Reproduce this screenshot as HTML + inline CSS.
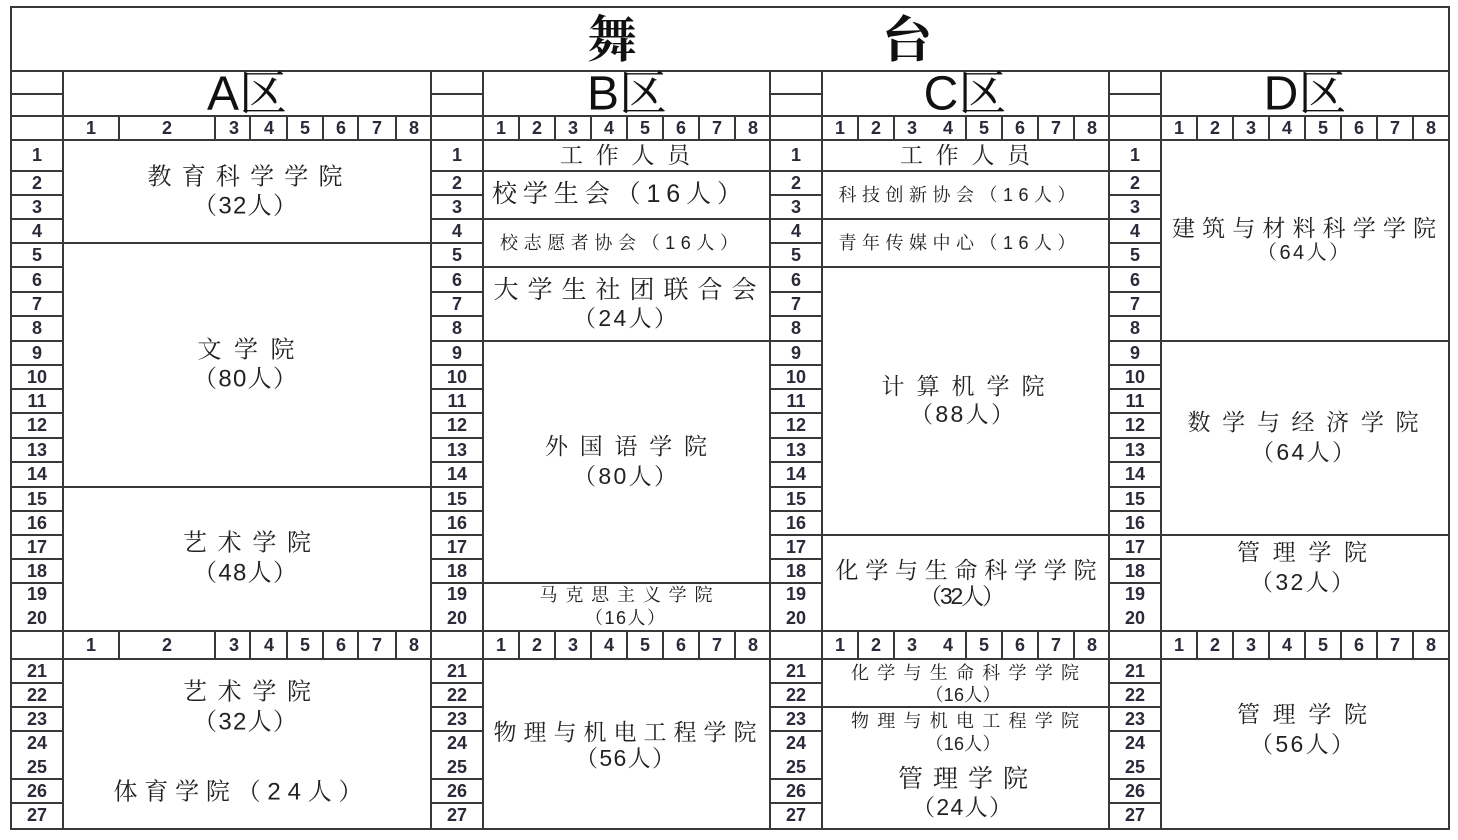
<!DOCTYPE html>
<html><head><meta charset="utf-8"><style>
html,body{margin:0;padding:0;background:#fff;}
svg{display:block;}
.n{font-family:"Liberation Sans",sans-serif;font-weight:bold;font-size:18px;fill:#2a2a3a;text-anchor:middle;dominant-baseline:central;}
.t{font-family:"Liberation Sans","Noto Serif CJK SC","Noto Sans CJK SC",sans-serif;fill:#222;text-anchor:middle;dominant-baseline:central;}
</style></head><body>
<svg width="1458" height="840" viewBox="0 0 1458 840" xmlns="http://www.w3.org/2000/svg">
<g stroke="#383838" stroke-width="2" fill="none">
<path d="M11 7H1449V829H11Z"/>
<path d="M11 71H1449M11 116H1449M11 140H1449M11 631H1449M11 659H1449"/>
<path d="M63 71V829M431 71V829M483 71V829M770 71V829M822 71V829M1109 71V829M1161 71V829"/>
<path d="M11 94H63M431 94H483M770 94H822M1109 94H1161"/>
<path d="M119 116V140M215 116V140M250 116V140M287 116V140M323 116V140M358 116V140M396 116V140"/>
<path d="M119 631V659M215 631V659M250 631V659M287 631V659M323 631V659M358 631V659M396 631V659"/>
<path d="M519 116V140M555 116V140M591 116V140M627 116V140M663 116V140M699 116V140M735 116V140"/>
<path d="M519 631V659M555 631V659M591 631V659M627 631V659M663 631V659M699 631V659M735 631V659"/>
<path d="M858 116V140M894 116V140M966 116V140M1002 116V140M1038 116V140M1074 116V140"/>
<path d="M858 631V659M894 631V659M966 631V659M1002 631V659M1038 631V659M1074 631V659"/>
<path d="M1197 116V140M1233 116V140M1269 116V140M1305 116V140M1341 116V140M1377 116V140M1413 116V140"/>
<path d="M1197 631V659M1233 631V659M1269 631V659M1305 631V659M1341 631V659M1377 631V659M1413 631V659"/>
<path d="M11 171H63M11 195H63M11 219H63M11 243H63M11 267H63M11 292H63M11 316H63M11 341H63M11 365H63M11 389H63M11 413H63M11 438H63M11 462H63M11 487H63M11 511H63M11 535H63M11 559H63M11 583H63M11 683H63M11 707H63M11 731H63M11 779H63M11 803H63"/>
<path d="M431 171H483M431 195H483M431 219H483M431 243H483M431 267H483M431 292H483M431 316H483M431 341H483M431 365H483M431 389H483M431 413H483M431 438H483M431 462H483M431 487H483M431 511H483M431 535H483M431 559H483M431 583H483M431 683H483M431 707H483M431 731H483M431 779H483M431 803H483"/>
<path d="M770 171H822M770 195H822M770 219H822M770 243H822M770 267H822M770 292H822M770 316H822M770 341H822M770 365H822M770 389H822M770 413H822M770 438H822M770 462H822M770 487H822M770 511H822M770 535H822M770 559H822M770 583H822M770 683H822M770 707H822M770 731H822M770 779H822M770 803H822"/>
<path d="M1109 171H1161M1109 195H1161M1109 219H1161M1109 243H1161M1109 267H1161M1109 292H1161M1109 316H1161M1109 341H1161M1109 365H1161M1109 389H1161M1109 413H1161M1109 438H1161M1109 462H1161M1109 487H1161M1109 511H1161M1109 535H1161M1109 559H1161M1109 583H1161M1109 683H1161M1109 707H1161M1109 731H1161M1109 779H1161M1109 803H1161"/>
<path d="M63 243H431M63 487H431"/>
<path d="M483 171H770M483 219H770M483 267H770M483 341H770M483 583H770"/>
<path d="M822 171H1109M822 219H1109M822 267H1109M822 535H1109M822 707H1109"/>
<path d="M1161 341H1449M1161 535H1449"/>
</g>
<text class="t" x="612" y="40" style="font-size:50px;font-weight:bold;fill:#111">舞</text>
<text class="t" x="907" y="40" style="font-size:50px;font-weight:bold;fill:#111">台</text>
<text class="t" x="247" y="94" style="font-size:48px;fill:#111">A区</text>
<text class="t" x="627" y="94" style="font-size:48px;fill:#111">B区</text>
<text class="t" x="965" y="94" style="font-size:48px;fill:#111">C区</text>
<text class="t" x="1305" y="94" style="font-size:48px;fill:#111">D区</text>
<g class="n">
<text x="91" y="128">1</text><text x="167" y="128">2</text><text x="234" y="128">3</text><text x="269" y="128">4</text><text x="305" y="128">5</text><text x="341" y="128">6</text><text x="377" y="128">7</text><text x="414" y="128">8</text>
<text x="91" y="645">1</text><text x="167" y="645">2</text><text x="234" y="645">3</text><text x="269" y="645">4</text><text x="305" y="645">5</text><text x="341" y="645">6</text><text x="377" y="645">7</text><text x="414" y="645">8</text>
<text x="501" y="128">1</text><text x="537" y="128">2</text><text x="573" y="128">3</text><text x="609" y="128">4</text><text x="645" y="128">5</text><text x="681" y="128">6</text><text x="717" y="128">7</text><text x="753" y="128">8</text>
<text x="501" y="645">1</text><text x="537" y="645">2</text><text x="573" y="645">3</text><text x="609" y="645">4</text><text x="645" y="645">5</text><text x="681" y="645">6</text><text x="717" y="645">7</text><text x="753" y="645">8</text>
<text x="840" y="128">1</text><text x="876" y="128">2</text><text x="912" y="128">3</text><text x="948" y="128">4</text><text x="984" y="128">5</text><text x="1020" y="128">6</text><text x="1056" y="128">7</text><text x="1092" y="128">8</text>
<text x="840" y="645">1</text><text x="876" y="645">2</text><text x="912" y="645">3</text><text x="948" y="645">4</text><text x="984" y="645">5</text><text x="1020" y="645">6</text><text x="1056" y="645">7</text><text x="1092" y="645">8</text>
<text x="1179" y="128">1</text><text x="1215" y="128">2</text><text x="1251" y="128">3</text><text x="1287" y="128">4</text><text x="1323" y="128">5</text><text x="1359" y="128">6</text><text x="1395" y="128">7</text><text x="1431" y="128">8</text>
<text x="1179" y="645">1</text><text x="1215" y="645">2</text><text x="1251" y="645">3</text><text x="1287" y="645">4</text><text x="1323" y="645">5</text><text x="1359" y="645">6</text><text x="1395" y="645">7</text><text x="1431" y="645">8</text>
</g>
<g class="n">
<g>
<text x="37" y="155">1</text><text x="37" y="183">2</text><text x="37" y="207">3</text><text x="37" y="231">4</text><text x="37" y="255">5</text><text x="37" y="280">6</text><text x="37" y="304">7</text><text x="37" y="328">8</text><text x="37" y="353">9</text><text x="37" y="377">10</text><text x="37" y="401">11</text><text x="37" y="425">12</text><text x="37" y="450">13</text><text x="37" y="474">14</text><text x="37" y="499">15</text><text x="37" y="523">16</text><text x="37" y="547">17</text><text x="37" y="571">18</text><text x="37" y="594">19</text><text x="37" y="618">20</text><text x="37" y="671">21</text><text x="37" y="695">22</text><text x="37" y="719">23</text><text x="37" y="743">24</text><text x="37" y="767">25</text><text x="37" y="791">26</text><text x="37" y="815">27</text>
</g>
<g>
<text x="457" y="155">1</text><text x="457" y="183">2</text><text x="457" y="207">3</text><text x="457" y="231">4</text><text x="457" y="255">5</text><text x="457" y="280">6</text><text x="457" y="304">7</text><text x="457" y="328">8</text><text x="457" y="353">9</text><text x="457" y="377">10</text><text x="457" y="401">11</text><text x="457" y="425">12</text><text x="457" y="450">13</text><text x="457" y="474">14</text><text x="457" y="499">15</text><text x="457" y="523">16</text><text x="457" y="547">17</text><text x="457" y="571">18</text><text x="457" y="594">19</text><text x="457" y="618">20</text><text x="457" y="671">21</text><text x="457" y="695">22</text><text x="457" y="719">23</text><text x="457" y="743">24</text><text x="457" y="767">25</text><text x="457" y="791">26</text><text x="457" y="815">27</text>
</g>
<g>
<text x="796" y="155">1</text><text x="796" y="183">2</text><text x="796" y="207">3</text><text x="796" y="231">4</text><text x="796" y="255">5</text><text x="796" y="280">6</text><text x="796" y="304">7</text><text x="796" y="328">8</text><text x="796" y="353">9</text><text x="796" y="377">10</text><text x="796" y="401">11</text><text x="796" y="425">12</text><text x="796" y="450">13</text><text x="796" y="474">14</text><text x="796" y="499">15</text><text x="796" y="523">16</text><text x="796" y="547">17</text><text x="796" y="571">18</text><text x="796" y="594">19</text><text x="796" y="618">20</text><text x="796" y="671">21</text><text x="796" y="695">22</text><text x="796" y="719">23</text><text x="796" y="743">24</text><text x="796" y="767">25</text><text x="796" y="791">26</text><text x="796" y="815">27</text>
</g>
<g>
<text x="1135" y="155">1</text><text x="1135" y="183">2</text><text x="1135" y="207">3</text><text x="1135" y="231">4</text><text x="1135" y="255">5</text><text x="1135" y="280">6</text><text x="1135" y="304">7</text><text x="1135" y="328">8</text><text x="1135" y="353">9</text><text x="1135" y="377">10</text><text x="1135" y="401">11</text><text x="1135" y="425">12</text><text x="1135" y="450">13</text><text x="1135" y="474">14</text><text x="1135" y="499">15</text><text x="1135" y="523">16</text><text x="1135" y="547">17</text><text x="1135" y="571">18</text><text x="1135" y="594">19</text><text x="1135" y="618">20</text><text x="1135" y="671">21</text><text x="1135" y="695">22</text><text x="1135" y="719">23</text><text x="1135" y="743">24</text><text x="1135" y="767">25</text><text x="1135" y="791">26</text><text x="1135" y="815">27</text>
</g>
</g>
<g class="t" style="font-size:24px">
<text x="245" y="177" textLength="195" lengthAdjust="spacing">教育科学学院</text>
<text x="245" y="206" textLength="104" lengthAdjust="spacing">（32人）</text>
<text x="246" y="350" textLength="97" lengthAdjust="spacing">文学院</text>
<text x="245" y="379" textLength="104" lengthAdjust="spacing">（80人）</text>
<text x="247" y="543" textLength="128" lengthAdjust="spacing">艺术学院</text>
<text x="245" y="573" textLength="104" lengthAdjust="spacing">（48人）</text>
<text x="247" y="692" textLength="128" lengthAdjust="spacing">艺术学院</text>
<text x="245" y="722" textLength="104" lengthAdjust="spacing">（32人）</text>
<text x="238" y="792" textLength="249" lengthAdjust="spacing">体育学院（24人）</text>
</g>
<g class="t" style="font-size:23px">
<text x="625" y="155" textLength="130" lengthAdjust="spacing">工作人员</text>
<text x="617" y="194" style="font-size:25px" textLength="250" lengthAdjust="spacing">校学生会（16人）</text>
<text x="619" y="243" style="font-size:18px" textLength="238" lengthAdjust="spacing">校志愿者协会（16人）</text>
<text x="625" y="290" style="font-size:25px" textLength="263" lengthAdjust="spacing">大学生社团联合会</text>
<text x="625" y="318" textLength="104" lengthAdjust="spacing">（24人）</text>
<text x="626" y="446" textLength="162" lengthAdjust="spacing">外国语学院</text>
<text x="625" y="476" textLength="104" lengthAdjust="spacing">（80人）</text>
<text x="626" y="595" style="font-size:18px" textLength="173" lengthAdjust="spacing">马克思主义学院</text>
<text x="625" y="618" style="font-size:18px" textLength="80" lengthAdjust="spacing">（16人）</text>
<text x="625" y="732" textLength="263" lengthAdjust="spacing">物理与机电工程学院</text>
<text x="625" y="758" textLength="100" lengthAdjust="spacing">（56人）</text>
</g>
<g class="t" style="font-size:23px">
<text x="965" y="155" textLength="130" lengthAdjust="spacing">工作人员</text>
<text x="957" y="195" style="font-size:18px" textLength="237" lengthAdjust="spacing">科技创新协会（16人）</text>
<text x="957" y="243" style="font-size:18px" textLength="237" lengthAdjust="spacing">青年传媒中心（16人）</text>
<text x="963" y="386" textLength="163" lengthAdjust="spacing">计算机学院</text>
<text x="962" y="414" textLength="104" lengthAdjust="spacing">（88人）</text>
<text x="966" y="570" textLength="261" lengthAdjust="spacing">化学与生命科学学院</text>
<text x="962" y="596" textLength="86" lengthAdjust="spacing">（32人）</text>
<text x="965" y="673" style="font-size:18px" textLength="228" lengthAdjust="spacing">化学与生命科学学院</text>
<text x="963" y="695" style="font-size:18px" textLength="75" lengthAdjust="spacing">（16人）</text>
<text x="965" y="721" style="font-size:18px" textLength="228" lengthAdjust="spacing">物理与机电工程学院</text>
<text x="963" y="744" style="font-size:18px" textLength="75" lengthAdjust="spacing">（16人）</text>
<text x="963" y="779" style="font-size:25px" textLength="130" lengthAdjust="spacing">管理学院</text>
<text x="962" y="807" textLength="100" lengthAdjust="spacing">（24人）</text>
</g>
<g class="t" style="font-size:23px">
<text x="1304" y="228" textLength="264" lengthAdjust="spacing">建筑与材料科学学院</text>
<text x="1303" y="253" style="font-size:20px" textLength="92" lengthAdjust="spacing">（64人）</text>
<text x="1303" y="422" textLength="231" lengthAdjust="spacing">数学与经济学院</text>
<text x="1303" y="452" textLength="104" lengthAdjust="spacing">（64人）</text>
<text x="1302" y="552" textLength="130" lengthAdjust="spacing">管理学院</text>
<text x="1302" y="582" textLength="104" lengthAdjust="spacing">（32人）</text>
<text x="1302" y="714" textLength="130" lengthAdjust="spacing">管理学院</text>
<text x="1302" y="744" textLength="104" lengthAdjust="spacing">（56人）</text>
</g>
</svg>
</body></html>
